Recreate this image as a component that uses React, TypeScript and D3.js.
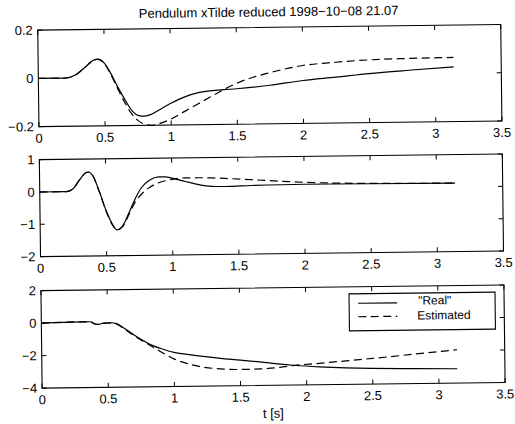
import React from "react";
import * as d3 from "d3";

const TITLE = "Pendulum xTilde reduced 1998−10−08 21.07";
const X_LABEL = "t [s]";
const LEGEND_LABELS = ['"Real"', "Estimated"];

const xTicks = [0, 0.5, 1, 1.5, 2, 2.5, 3, 3.5];
const xTickLabels = ["0", "0.5", "1", "1.5", "2", "2.5", "3", "3.5"];

// Panel 1
const topT = [0, 0.2, 0.28, 0.35, 0.42, 0.45, 0.5, 0.55, 0.6, 0.65, 0.7, 0.75, 0.8, 0.85, 0.9, 1.0, 1.1, 1.2, 1.3, 1.4, 1.5, 1.75, 2.0, 2.25, 2.5, 2.8, 3.14];
const topReal = [0, 0, 0.012, 0.042, 0.073, 0.077, 0.06, 0.015, -0.04, -0.09, -0.135, -0.158, -0.162, -0.155, -0.14, -0.11, -0.085, -0.068, -0.06, -0.056, -0.053, -0.04, -0.022, -0.01, 0.003, 0.015, 0.027];
const topEst = [0, 0, 0.012, 0.042, 0.073, 0.076, 0.058, 0.01, -0.048, -0.103, -0.15, -0.18, -0.195, -0.2, -0.195, -0.175, -0.145, -0.115, -0.085, -0.056, -0.03, 0.012, 0.04, 0.052, 0.06, 0.064, 0.066];
const topYTicks = [-0.2, 0, 0.2];
const topYTickLabels = ["−0.2", "0", "0.2"];

// Panel 2
const midT = [0, 0.2, 0.25, 0.3, 0.35, 0.37, 0.4, 0.45, 0.5, 0.55, 0.58, 0.62, 0.67, 0.72, 0.77, 0.83, 0.9, 0.95, 1.0, 1.1, 1.2, 1.3, 1.4, 1.6, 2.0, 2.5, 3.14];
const midReal = [0, 0, 0.08, 0.35, 0.58, 0.6, 0.5, 0.0, -0.6, -1.05, -1.2, -1.1, -0.7, -0.25, 0.1, 0.32, 0.42, 0.42, 0.38, 0.27, 0.17, 0.11, 0.1, 0.12, 0.14, 0.13, 0.12];
const midEst = [0, 0, 0.08, 0.35, 0.58, 0.6, 0.5, -0.02, -0.62, -1.07, -1.2, -1.12, -0.75, -0.35, -0.1, 0.1, 0.24, 0.3, 0.34, 0.38, 0.38, 0.37, 0.35, 0.3, 0.2, 0.14, 0.12];
const midYTicks = [-2, -1, 0, 1];
const midYTickLabels = ["−2", "−1", "0", "1"];

// Panel 3
const botT = [0, 0.3, 0.37, 0.4, 0.43, 0.47, 0.53, 0.57, 0.62, 0.7, 0.8, 0.85, 0.9, 1.0, 1.1, 1.2, 1.35, 1.5, 1.65, 1.8, 1.9, 2.1, 2.3, 2.5, 2.8, 3.14];
const botReal = [0, 0.05, 0.05, -0.08, -0.12, -0.05, -0.03, -0.1, -0.35, -0.8, -1.3, -1.5, -1.65, -1.9, -2.03, -2.15, -2.3, -2.42, -2.55, -2.7, -2.78, -2.9, -2.98, -3.03, -3.08, -3.12];
const botEst = [0, 0.05, 0.05, -0.08, -0.12, -0.05, -0.03, -0.1, -0.38, -0.85, -1.35, -1.6, -1.85, -2.3, -2.6, -2.8, -2.95, -3.0, -2.98, -2.9, -2.8, -2.68, -2.55, -2.42, -2.2, -1.95];
const botYTicks = [-4, -2, 0, 2];
const botYTickLabels = ["−4", "−2", "0", "2"];

const W = 515;
const H = 424;
const FONT = "'Liberation Sans', Arial, Helvetica, sans-serif";
const X0 = 40;
const X1 = 503;

type PanelDef = {
  top: number;
  bottom: number;
  domain: [number, number];
  t: number[];
  real: number[];
  est: number[];
  yTicks: number[];
  yLabels: string[];
  legend?: boolean;
};

const panels: PanelDef[] = [
  { top: 27.5, bottom: 124, domain: [-0.2, 0.2], t: topT, real: topReal, est: topEst, yTicks: topYTicks, yLabels: topYTickLabels },
  { top: 157, bottom: 254, domain: [-2, 1], t: midT, real: midReal, est: midEst, yTicks: midYTicks, yLabels: midYTickLabels },
  { top: 288, bottom: 385.5, domain: [-4, 2], t: botT, real: botReal, est: botEst, yTicks: botYTicks, yLabels: botYTickLabels, legend: true },
];

const x = d3.scaleLinear().domain([0, 3.5]).range([X0, X1]);

function Panel({ p, idx }: { p: PanelDef; idx: number }) {
  const y = d3.scaleLinear().domain(p.domain).range([p.bottom, p.top]);
  const line = d3
    .line<number>()
    .x((_, i) => x(p.t[i]))
    .y((v) => y(v))
    .curve(d3.curveMonotoneX);
  const tl = 4.6;
  const clipId = `clip${idx}`;
  return (
    <g>
      <defs>
        <clipPath id={clipId}>
          <rect x={X0} y={p.top - 1} width={X1 - X0} height={p.bottom - p.top + 2} />
        </clipPath>
      </defs>
      <g clipPath={`url(#${clipId})`}>
        <path d={line(p.real) || ""} fill="none" stroke="#000" strokeWidth={1.2} />
        <path d={line(p.est) || ""} fill="none" stroke="#000" strokeWidth={1.2} strokeDasharray="8,4.5" />
      </g>
      <rect x={X0} y={p.top} width={X1 - X0} height={p.bottom - p.top} fill="none" stroke="#000" strokeWidth={1.1} />
      {xTicks.map((v, i) => (
        <g key={`xt${i}`}>
          <line x1={x(v)} x2={x(v)} y1={p.bottom} y2={p.bottom - tl} stroke="#000" strokeWidth={1} />
          <line x1={x(v)} x2={x(v)} y1={p.top} y2={p.top + tl} stroke="#000" strokeWidth={1} />
          <text x={x(v)} y={p.bottom + 16} textAnchor="middle" fontSize={13} fontFamily={FONT} fill="#000">
            {xTickLabels[i]}
          </text>
        </g>
      ))}
      {p.yTicks.map((v, i) => (
        <g key={`yt${i}`}>
          <line x1={X0} x2={X0 + tl} y1={y(v)} y2={y(v)} stroke="#000" strokeWidth={1} />
          <line x1={X1} x2={X1 - tl} y1={y(v)} y2={y(v)} stroke="#000" strokeWidth={1} />
          <text x={X0 - 5} y={y(v) + 4.5} textAnchor="end" fontSize={13} fontFamily={FONT} fill="#000">
            {p.yLabels[i]}
          </text>
        </g>
      ))}
      {p.legend && (
        <g>
          <rect x={348} y={295} width={146} height={37} fill="#fff" stroke="#000" strokeWidth={1.1} />
          <line x1={357} x2={396} y1={304.5} y2={304.5} stroke="#000" strokeWidth={1.2} />
          <line x1={357} x2={396} y1={318} y2={318} stroke="#000" strokeWidth={1.2} strokeDasharray="8,4.5" />
          <text x={417} y={306.5} fontSize={12} fontFamily={FONT} fill="#000">{LEGEND_LABELS[0]}</text>
          <text x={416} y={321.5} fontSize={12} fontFamily={FONT} fill="#000">{LEGEND_LABELS[1]}</text>
        </g>
      )}
    </g>
  );
}

export default function App() {
  return (
    <svg
      width={W}
      height={H}
      viewBox={`0 0 ${W} ${H}`}
      style={{ position: "absolute", left: 0, top: 0, background: "#fff" }}
    >
      <rect x={0} y={0} width={W} height={H} fill="#fff" />
      <g transform="rotate(-0.7 257 212)">
        <text x={271} y={16.5} textAnchor="middle" fontSize={13} fontFamily={FONT} fill="#000">
          {TITLE}
        </text>
        {panels.map((p, i) => (
          <Panel key={i} p={p} idx={i} />
        ))}
        <text x={271} y={418} textAnchor="middle" fontSize={13} fontFamily={FONT} fill="#000">
          {X_LABEL}
        </text>
      </g>
    </svg>
  );
}
